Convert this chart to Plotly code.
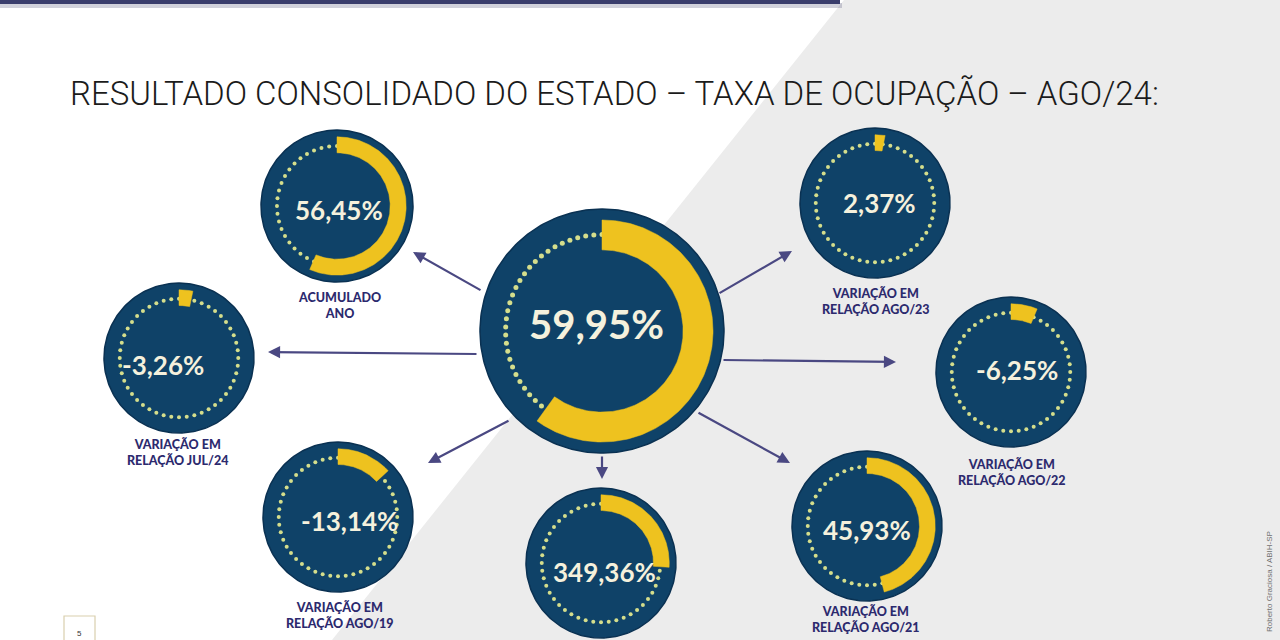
import numpy as np
import plotly.graph_objects as go

# ---------------- data ----------------
names = ["TOTAL", "ACUMULADO ANO", "JUL/24", "AGO/19", "AGO/20", "AGO/21", "AGO/22", "AGO/23"]
values = [59.95, 56.45, -3.26, -13.14, 349.36, 45.93, -6.25, 2.37]
arc_fill = [59.95, 56.45, 3.26, 13.14, 26.0, 45.93, 6.25, 2.37]   # yellow arc share (%)
captions = ["", "ACUMULADO<br>ANO", "VARIAÇÃO EM<br>RELAÇÃO JUL/24", "VARIAÇÃO EM<br>RELAÇÃO AGO/19",
            "", "VARIAÇÃO EM<br>RELAÇÃO AGO/21", "VARIAÇÃO EM<br>RELAÇÃO AGO/22", "VARIAÇÃO EM<br>RELAÇÃO AGO/23"]
title_text = "RESULTADO CONSOLIDADO DO ESTADO – TAXA DE OCUPAÇÃO – AGO/24:"
credit_text = "Roberto Graciosa / ABIH-SP"

# ---------------- layout geometry (pixels) ----------------
centers = [(602, 331), (337, 206), (179, 358), (338, 517), (601, 563), (867, 526), (1011, 372), (875, 203)]
radii = [122, 76, 75, 75, 75, 75, 75, 75]
text_pos = [(596, 324), (339, 210), (163, 365), (349, 521), (604, 572), (867, 530), (1017, 370), (879, 203)]
caption_y = [None, 305, 452, 615, None, 619, 472, 301]
caption_x = [None, 339, 177, 340, None, 866, 1012, 876]
arrows = [  # (tail_x, tail_y, head_x, head_y) ordered as circles 1..7
    None,
    (482, 291, 413, 252),
    (478, 354, 268, 352),
    (510, 420, 428, 463),
    (602, 455, 602, 479),
    (697, 412, 790, 463),
    (722, 360, 896, 362),
    (718, 294, 792, 251),
]

NAVY = "#0f4268"
RIM = "#0a3152"
YELLOW = "#eec21f"
DOT = "#d5de8c"
NUMTXT = "#f5f1dd"
LABEL = "#2c2a6e"
ARROW = "#4a4882"

fig = go.Figure()


def circle_xy(cx, cy, r, n=240):
    t = np.linspace(0, 2 * np.pi, n)
    return cx + r * np.sin(t), cy - r * np.cos(t)


def sector_xy(cx, cy, r_in, r_out, frac, n=200):
    a = np.linspace(0, 2 * np.pi * frac / 100.0, n)
    xo, yo = cx + r_out * np.sin(a), cy - r_out * np.cos(a)
    xi, yi = cx + r_in * np.sin(a[::-1]), cy - r_in * np.cos(a[::-1])
    return np.concatenate([xo, xi, xo[:1]]), np.concatenate([yo, yi, yo[:1]])


for i, v in enumerate(values):
    cx, cy = centers[i]
    R = radii[i]
    x, y = circle_xy(cx, cy, R)
    fig.add_trace(go.Scatter(x=x, y=y, mode="lines", fill="toself", fillcolor=NAVY,
                             line=dict(color=RIM, width=1.5), hoverinfo="skip", showlegend=False))
    # dotted ring
    nd = 74 if i == 0 else 48
    t = np.arange(nd) * 2 * np.pi / nd
    rd = R * 0.79
    fig.add_trace(go.Scatter(x=cx + rd * np.sin(t), y=cy - rd * np.cos(t), mode="markers",
                             marker=dict(color=DOT, size=5 if i == 0 else 4),
                             hoverinfo="skip", showlegend=False))
    # yellow arc
    r_in = R * (0.665 if i == 0 else 0.70)
    r_out = R * 0.91
    sx, sy = sector_xy(cx, cy, r_in, r_out, arc_fill[i])
    fig.add_trace(go.Scatter(x=sx, y=sy, mode="lines", fill="toself", fillcolor=YELLOW,
                             line=dict(color=YELLOW, width=0.5), hoverinfo="skip", showlegend=False))

annotations = []
# value texts
for i, v in enumerate(values):
    tx, ty = text_pos[i]
    s = f"{v:.2f}".replace(".", ",") + "%"
    annotations.append(dict(x=tx, y=ty, xref="x", yref="y", text=s, showarrow=False,
                            font=dict(family="Lato, Open Sans, sans-serif", size=40 if i == 0 else 26,
                                      color=NUMTXT, weight="bold"),
                            xanchor="center", yanchor="middle"))
    if captions[i]:
        annotations.append(dict(x=caption_x[i], y=caption_y[i], xref="x", yref="y", text=captions[i],
                                showarrow=False, align="center",
                                font=dict(family="Lato, Open Sans, sans-serif", size=12.5,
                                          color=LABEL, weight=900),
                                xanchor="center", yanchor="middle"))
# arrows
for a in arrows:
    if a is None:
        continue
    tx, ty, hx, hy = a
    annotations.append(dict(x=hx, y=hy, ax=tx, ay=ty, xref="x", yref="y", axref="x", ayref="y",
                            text="", showarrow=True, arrowhead=2, arrowsize=1.1, arrowwidth=2.2,
                            arrowcolor=ARROW))
# title
annotations.append(dict(x=68, y=93, xref="x", yref="y", text=title_text, showarrow=False,
                        xanchor="left", yanchor="middle",
                        font=dict(family="Roboto, Liberation Sans Narrow, sans-serif",
                                  size=33, color="#1b1b1b", weight=300)))
# photo credit (vertical)
annotations.append(dict(x=1269, y=582, xref="x", yref="y", text=credit_text,
                        showarrow=False, textangle=-90, xanchor="center", yanchor="middle",
                        font=dict(family="Liberation Sans, Arial, sans-serif", size=8, color="#707070")))
# page number
annotations.append(dict(x=79, y=633, xref="x", yref="y", text="5", showarrow=False,
                        font=dict(family="Liberation Sans, Arial, sans-serif", size=8, color="#333333")))

shapes = [
    # grey diagonal background
    dict(type="path", xref="x", yref="y", path="M 844 0 L 1280 0 L 1280 640 L 332 640 Z",
         fillcolor="#ececec", line=dict(width=0), layer="below"),
    # top bar with shadow
    dict(type="rect", xref="x", yref="y", x0=0, x1=842, y0=3, y1=8,
         fillcolor="rgba(70,72,110,0.25)", line=dict(width=0), layer="below"),
    dict(type="rect", xref="x", yref="y", x0=0, x1=840, y0=0, y1=4,
         fillcolor="#3a3d6c", line=dict(width=0), layer="below"),
    # page number box
    dict(type="rect", xref="x", yref="y", x0=64, x1=95, y0=616, y1=645,
         fillcolor="rgba(0,0,0,0)", line=dict(color="#d9cfae", width=1.2), layer="below"),
]

fig.update_layout(
    width=1280, height=640,
    margin=dict(l=0, r=0, t=0, b=0),
    paper_bgcolor="#ffffff", plot_bgcolor="rgba(0,0,0,0)",
    xaxis=dict(range=[0, 1280], visible=False, fixedrange=True),
    yaxis=dict(range=[640, 0], visible=False, fixedrange=True),
    annotations=annotations, shapes=shapes, showlegend=False,
)

fig.write_html("out.html")
